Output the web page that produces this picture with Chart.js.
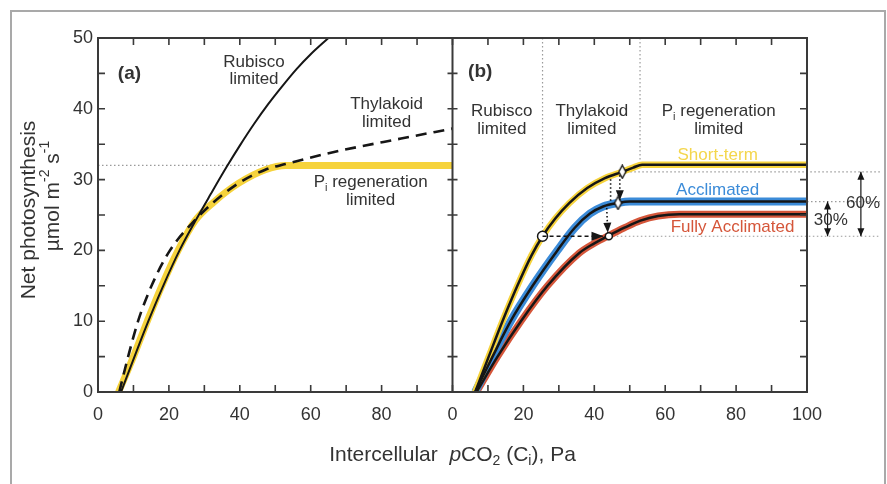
<!DOCTYPE html>
<html lang="en">
<head>
<meta charset="utf-8">
<title>Net photosynthesis vs intercellular pCO2</title>
<script src="https://cdn.jsdelivr.net/npm/chart.js@4.4.1/dist/chart.umd.min.js"></script>
<style>
  html, body { margin: 0; padding: 0; background: #ffffff; }
  canvas { display: block; }
</style>
</head>
<body>
<canvas id="MiGrafica" width="887" height="484"></canvas>
<script>
// ---- panel (a): limiting processes ----
const rubiscoX = [6.5, 10.3, 14.2, 18.4, 23, 27.4, 31.8, 36.3, 40, 44, 48, 52, 56, 60, 65];
const rubiscoY = [0, 5, 10, 15, 20, 24.1, 27.95, 31.8, 34.8, 37.85, 40.65, 43.2, 45.6, 47.7, 50];
const tilacoideX = [6, 8.5, 11.3, 15.1, 20.3, 27.4, 32.6, 39.7, 47.2, 52.9, 66.6, 85.5, 100];
const tilacoideY = [0, 5, 10, 15, 20, 24.3, 26.8, 29.5, 31.4, 32.2, 33.9, 35.8, 37.2];
const fosfatoX = [5.8, 10, 13.9, 18, 22.6, 27.4, 32.6, 39.7, 47.2, 53, 100];
const fosfatoY = [0, 5, 10, 15, 20, 24.2, 26.8, 29.5, 31.4, 32.0, 32.0];
const limiteAX = [0, 100];
const limiteAY = [32.0, 32.0];

// ---- panel (b): acclimation ----
const cortoX = [6.4, 10.3, 14.1, 18.3, 22.3, 25.4, 29, 33, 38, 43, 47.9, 51, 53.5, 100];
const cortoY = [0, 5.1, 10, 15, 19.3, 22.0, 24.5, 26.7, 28.8, 30.2, 31.1, 31.7, 32.1, 32.1];
const aclimX = [6.4, 11.3, 16.4, 22.6, 29.6, 34.5, 38.8, 42.5, 46.7, 50, 100];
const aclimY = [0, 5, 10, 15, 20, 23.2, 25.2, 26.2, 26.7, 26.9, 26.9];
const totalX = [6.8, 12.7, 19.3, 26.8, 35.7, 40, 44.1, 48.5, 53, 58, 64, 100];
const totalY = [0, 5, 10, 15, 19.6, 21.0, 22.1, 23.2, 24.2, 24.85, 25.1, 25.1];

// guides of panel (b)
const guiaVX = [25.4, 52.9];       // vertical dotted lines, from the top down to
const guiaVY = [22.0, 32.1];
const nivelY = [31.1, 26.9, 22.0]; // horizontal dotted levels
const nivelDesde = [47.9, 100, 44.1];
const nivelHasta = 120.6;
const circuloX = [25.4, 44.1];
const circuloY = [22.0, 22.0];
const romboX = [47.9, 46.7];
const romboY = [31.1, 26.7];

// tick labels
const etiquetasXA = [0, 20, 40, 60, 80];
const etiquetasXB = [0, 20, 40, 60, 80, 100];
const etiquetasY = [0, 10, 20, 30, 40, 50];

const AMARILLO = '#f6d33c';
const AZUL = '#3b8bd8';
const ROJO = '#d5563a';
const NEGRO = '#161616';
const TEXTO = '#333333';
const fuente = "'Liberation Sans', Arial, sans-serif";

const pts = (xs, ys) => xs.map((x, i) => ({ x: x, y: ys[i] }));

function curva(xs, ys, eje, color, ancho, orden, extra) {
  return Object.assign({
    data: pts(xs, ys), xAxisID: eje, yAxisID: 'y',
    borderColor: color, borderWidth: ancho, order: orden,
    pointRadius: 0, fill: false, cubicInterpolationMode: 'monotone'
  }, extra || {});
}

function rombo() {
  const c = document.createElement('canvas');
  c.width = 9; c.height = 15;
  const g = c.getContext('2d');
  g.beginPath();
  g.moveTo(4.5, 1); g.lineTo(8, 7.5); g.lineTo(4.5, 14); g.lineTo(1, 7.5);
  g.closePath();
  g.fillStyle = '#fff'; g.fill();
  g.lineWidth = 1.4; g.strokeStyle = NEGRO; g.stroke();
  return c;
}

const punteado = { borderDash: [1.5, 2.5], cubicInterpolationMode: 'default', tension: 0, clip: false };

const datasets = [
  // panel a
  curva(rubiscoX, rubiscoY, 'xa', NEGRO, 2, 1),
  curva(tilacoideX, tilacoideY, 'xa', NEGRO, 2.6, 1, { borderDash: [11, 7] }),
  curva(fosfatoX, fosfatoY, 'xa', AMARILLO, 7, 5),
  curva(limiteAX, limiteAY, 'xa', '#9a9a9a', 1.2, 6, punteado),
  // panel b
  curva(cortoX, cortoY, 'xb', NEGRO, 2.5, 2),
  curva(aclimX, aclimY, 'xb', NEGRO, 2.5, 2),
  curva(totalX, totalY, 'xb', NEGRO, 2.5, 2),
  curva(cortoX, cortoY, 'xb', AMARILLO, 6.5, 4),
  curva(aclimX, aclimY, 'xb', AZUL, 8, 4),
  curva(totalX, totalY, 'xb', ROJO, 7, 4),
  {
    type: 'line', xAxisID: 'xb', yAxisID: 'y', order: 0, showLine: false,
    data: pts(circuloX, circuloY), pointStyle: 'circle', pointRadius: [5, 3.5],
    pointBackgroundColor: '#fff', pointBorderColor: NEGRO, pointBorderWidth: 1.5
  },
  {
    type: 'line', xAxisID: 'xb', yAxisID: 'y', order: 0, showLine: false,
    data: pts(romboX, romboY), pointStyle: rombo(), pointRadius: 5
  }
];
guiaVX.forEach((x, i) => datasets.push(curva([x, x], [50, guiaVY[i]], 'xb', '#9a9a9a', 1.2, 6, punteado)));
nivelY.forEach((y, i) => datasets.push(curva([nivelDesde[i], nivelHasta], [y, y], 'xb', '#9a9a9a', 1.2, 6, punteado)));

// arrows of panel (b), in data units
const flechas = [
  { de: [25.4, 22.0], a: [42.6, 22.0], trazo: [4, 3], punta: true, l: 12, w: 4.5 },
  { de: [44.6, 30.6], a: [44.6, 26.9], trazo: [1.5, 2.5], punta: false },
  { de: [47.2, 30.6], a: [47.2, 27.1], trazo: [1.5, 2.5], punta: true, l: 10, w: 4 },
  { de: [43.5, 26.0], a: [43.8, 22.5], trazo: [1.5, 2.5], punta: true, l: 10, w: 4 },
  { de: [115.2, 22.0], a: [115.2, 31.1], trazo: [], punta: true, doble: true, l: 8, w: 3.5 },
  { de: [105.8, 22.0], a: [105.8, 26.9], trazo: [], punta: true, doble: true, l: 8, w: 3.5 }
];

const rotulos = [
  { eje: 'xa', x: 5.6, y: 44.9, partes: [['(a)']], negrita: true, alin: 'left', tam: 19 },
  { eje: 'xa', x: 44.0, y: 46.6, partes: [['Rubisco']] },
  { eje: 'xa', x: 44.0, y: 44.1, partes: [['limited']] },
  { eje: 'xa', x: 81.4, y: 40.7, partes: [['Thylakoid']] },
  { eje: 'xa', x: 81.4, y: 38.1, partes: [['limited']] },
  { eje: 'xa', x: 76.9, y: 29.6, partes: [['P'], ['i', 'sub'], [' regeneration']] },
  { eje: 'xa', x: 76.9, y: 27.1, partes: [['limited']] },
  { eje: 'xb', x: 4.4, y: 45.2, partes: [['(b)']], negrita: true, alin: 'left', tam: 19 },
  { eje: 'xb', x: 13.9, y: 39.6, partes: [['Rubisco']] },
  { eje: 'xb', x: 13.9, y: 37.1, partes: [['limited']] },
  { eje: 'xb', x: 39.3, y: 39.6, partes: [['Thylakoid']] },
  { eje: 'xb', x: 39.3, y: 37.1, partes: [['limited']] },
  { eje: 'xb', x: 75.1, y: 39.6, partes: [['P'], ['i', 'sub'], [' regeneration']] },
  { eje: 'xb', x: 75.1, y: 37.1, partes: [['limited']] },
  { eje: 'xb', x: 74.8, y: 33.5, partes: [['Short-term']], color: '#f4d64c' },
  { eje: 'xb', x: 74.8, y: 28.5, partes: [['Acclimated']], color: AZUL },
  { eje: 'xb', x: 79.0, y: 23.3, partes: [['Fully Acclimated']], color: ROJO },
  { eje: 'xb', x: 115.8, y: 26.7, partes: [['60%']] },
  { eje: 'xb', x: 106.7, y: 24.3, partes: [['30%']] }
];

function textoRico(ctx, partes, x, y, tam, color, alin, negrita) {
  const fontDe = s => (s === 'it' ? 'italic ' : '') + (negrita ? 'bold ' : '') +
    ((s === 'sub' || s === 'sup') ? Math.round(tam * 0.65) : tam) + 'px ' + fuente;
  let total = 0;
  partes.forEach(p => { ctx.font = fontDe(p[1]); total += ctx.measureText(p[0]).width; });
  let cx = alin === 'left' ? x : x - total / 2;
  ctx.fillStyle = color;
  ctx.textAlign = 'left';
  ctx.textBaseline = 'middle';
  partes.forEach(p => {
    ctx.font = fontDe(p[1]);
    const dy = p[1] === 'sub' ? tam * 0.3 : (p[1] === 'sup' ? -tam * 0.38 : 0);
    ctx.fillText(p[0], cx, y + dy);
    cx += ctx.measureText(p[0]).width;
  });
}

function punta(ctx, x1, y1, x2, y2, l, w) {
  const a = Math.atan2(y2 - y1, x2 - x1);
  const bx = x2 - l * Math.cos(a), by = y2 - l * Math.sin(a);
  ctx.beginPath();
  ctx.moveTo(x2, y2);
  ctx.lineTo(bx + w * Math.sin(a), by - w * Math.cos(a));
  ctx.lineTo(bx - w * Math.sin(a), by + w * Math.cos(a));
  ctx.closePath();
  ctx.fill();
}

const marco = {
  id: 'marco',
  beforeDraw(chart) {
    const ctx = chart.ctx;
    ctx.save();
    ctx.fillStyle = '#fff';
    ctx.fillRect(0, 0, chart.width, chart.height);
    ctx.strokeStyle = '#a9a9a9';
    ctx.lineWidth = 2;
    ctx.beginPath();
    ctx.moveTo(11, chart.height); ctx.lineTo(11, 11); ctx.lineTo(885, 11); ctx.lineTo(885, chart.height);
    ctx.stroke();
    ctx.restore();
  },
  afterDatasetsDraw(chart) {
    const { ctx, chartArea: ca, scales } = chart;
    const xa = scales.xa, xb = scales.xb, y = scales.y;
    const medio = xb.getPixelForValue(0);
    const tl = 7;
    ctx.save();
    ctx.strokeStyle = '#3a3a3a';
    ctx.lineWidth = 2;
    ctx.strokeRect(ca.left, ca.top, ca.width, ca.height);
    ctx.beginPath(); ctx.moveTo(medio, ca.top); ctx.lineTo(medio, ca.bottom); ctx.stroke();
    ctx.lineWidth = 1.6;
    ctx.beginPath();
    [xa, xb].forEach(sc => sc.ticks.forEach(t => {
      const px = sc.getPixelForValue(t.value);
      ctx.moveTo(px, ca.bottom); ctx.lineTo(px, ca.bottom - tl);
      ctx.moveTo(px, ca.top); ctx.lineTo(px, ca.top + tl);
    }));
    y.ticks.forEach(t => {
      const py = y.getPixelForValue(t.value);
      ctx.moveTo(ca.left, py); ctx.lineTo(ca.left + tl, py);
      ctx.moveTo(medio - tl + 2, py); ctx.lineTo(medio + tl - 2, py);
      ctx.moveTo(ca.right, py); ctx.lineTo(ca.right - tl, py);
    });
    ctx.stroke();

    // arrows
    ctx.strokeStyle = NEGRO;
    ctx.fillStyle = NEGRO;
    flechas.forEach(f => {
      const x1 = xb.getPixelForValue(f.de[0]), y1 = y.getPixelForValue(f.de[1]);
      const x2 = xb.getPixelForValue(f.a[0]), y2 = y.getPixelForValue(f.a[1]);
      ctx.lineWidth = f.trazo.length ? 1.6 : 1.2;
      ctx.setLineDash(f.trazo);
      ctx.beginPath(); ctx.moveTo(x1, y1); ctx.lineTo(x2, y2); ctx.stroke();
      ctx.setLineDash([]);
      if (f.punta) punta(ctx, x1, y1, x2, y2, f.l, f.w);
      if (f.doble) punta(ctx, x2, y2, x1, y1, f.l, f.w);
    });
    ctx.restore();
  },
  afterDraw(chart) {
    const { ctx, chartArea: ca, scales } = chart;
    const y = scales.y;
    ctx.save();
    rotulos.forEach(r => {
      textoRico(ctx, r.partes, scales[r.eje].getPixelForValue(r.x), y.getPixelForValue(r.y),
        r.tam || 17, r.color || TEXTO, r.alin, r.negrita);
    });
    // axis titles
    const medio = scales.xb.getPixelForValue(0);
    textoRico(ctx, [['Intercellular  '], ['p', 'it'], ['CO'], ['2', 'sub'], [' (C'], ['i', 'sub'], ['), Pa']],
      medio, ca.bottom + 63, 21, TEXTO);
    const cy = (ca.top + ca.bottom) / 2;
    ctx.translate(29, cy - 5);
    ctx.rotate(-Math.PI / 2);
    textoRico(ctx, [['Net photosynthesis']], 0, 0, 21, TEXTO);
    ctx.rotate(Math.PI / 2);
    ctx.translate(24, -14);
    ctx.rotate(-Math.PI / 2);
    textoRico(ctx, [['\u00b5mol m'], ['-2', 'sup'], [' s'], ['-1', 'sup']], 0, 0, 21, TEXTO);
    ctx.restore();
  }
};

const ejeX = (etiquetas) => ({
  type: 'linear', position: 'bottom', stack: 'x', stackWeight: 1, min: 0, max: 100,
  grid: { display: false, drawTicks: false }, border: { display: false },
  ticks: {
    stepSize: 10, autoSkip: false, maxRotation: 0, padding: 12,
    color: TEXTO, font: { family: fuente, size: 18 },
    callback: v => etiquetas.includes(v) ? String(v) : ''
  },
  afterFit(s) { s.height = 92; }
});

new Chart(document.getElementById('MiGrafica').getContext('2d'), {
  type: 'line',
  data: { datasets: datasets },
  options: {
    responsive: false,
    animation: false,
    layout: { padding: { top: 38, right: 80, left: 0, bottom: 0 } },
    plugins: { legend: { display: false }, tooltip: { enabled: false } },
    scales: {
      y: {
        type: 'linear', position: 'left', min: 0, max: 50,
        grid: { display: false, drawTicks: false }, border: { display: false },
        ticks: {
          stepSize: 5, autoSkip: false, padding: 5,
          color: TEXTO, font: { family: fuente, size: 18 },
          callback: v => etiquetasY.includes(v) ? String(v) : ''
        },
        afterFit(s) { s.width = 98; }
      },
      xa: ejeX(etiquetasXA),
      xb: ejeX(etiquetasXB)
    }
  },
  plugins: [marco]
});
</script>
</body>
</html>
